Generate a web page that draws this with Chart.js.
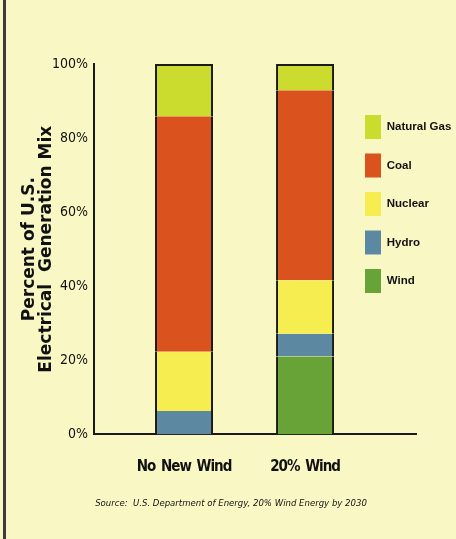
<!DOCTYPE html>
<html><head><meta charset="utf-8">
<script src="https://cdn.jsdelivr.net/npm/chart.js@4.4.1/dist/chart.umd.min.js"></script>
<style>
html,body{margin:0;padding:0;background:#f9f8c4;}
#wrap{position:relative;width:456px;height:539px;overflow:hidden;}
#edge{position:absolute;left:3px;top:0;width:3px;height:539px;background:#3b3b3b;}
#c{position:absolute;left:0;top:0;}
</style></head><body>
<div id="wrap"><div id="edge"></div><canvas id="c" width="456" height="539"></canvas></div>
<script>
// ---- data ----
const categories = ['No New Wind', '20% Wind'];
const wind       = [0,    21.0];
const hydro      = [6.3,  6.2];
const nuclear    = [16.0, 14.4];
const coal       = [63.6, 51.3];
const naturalGas = [14.1, 7.1];
const yTickValues = [0, 20, 40, 60, 80, 100];
const yTitle = ['Percent of U.S.', 'Electrical  Generation Mix'];
const sourceText = 'Source:  U.S. Department of Energy, 20% Wind Energy by 2030';

// ---- styling ----
const COND = "'DejaVu Sans Condensed', 'Liberation Sans', sans-serif";
const INK = '#111111';
const series = [
  { label: 'Wind',        values: wind,       color: '#67a337' },
  { label: 'Hydro',       values: hydro,      color: '#5c89a1' },
  { label: 'Nuclear',     values: nuclear,    color: '#f6ee50' },
  { label: 'Coal',        values: coal,       color: '#da531f' },
  { label: 'Natural Gas', values: naturalGas, color: '#cbdc2f' }
];

function outline(ctx) {
  if (ctx.type !== 'data') return 0;
  const i = ctx.dataIndex;
  let topIdx = -1;
  ctx.chart.data.datasets.forEach((d, k) => { if (d.data[i].y > 0) topIdx = k; });
  return { left: 2, right: 2, top: ctx.datasetIndex === topIdx ? 2 : 0, bottom: 0 };
}

// place the legend over the right part of the plot, like the original
const moveLegend = {
  id: 'moveLegend',
  afterLayout(chart) {
    const lg = chart.legend;
    const pad = lg.options.labels.padding;
    const h = lg.bottom - lg.top;
    lg.left = 365 - pad; lg.right = chart.width; lg.width = lg.right - lg.left;
    lg.top = 115 - pad; lg.bottom = lg.top + h;
  },
  beforeDraw(chart) { chart.ctx.letterSpacing = '0px'; chart.ctx.wordSpacing = '0px'; },
  afterDatasetsDraw(chart) { chart.ctx.letterSpacing = '-1px'; chart.ctx.wordSpacing = '2px'; }, // tight category labels
  afterDraw(chart) { chart.ctx.letterSpacing = '0px'; chart.ctx.wordSpacing = '0px'; }
};

new Chart(document.getElementById('c'), {
  type: 'bar',
  data: {
    datasets: series.map(s => ({
      label: s.label,
      data: s.values.map((v, i) => ({ x: i, y: v })),
      backgroundColor: s.color,
      borderColor: '#1a1a1a',
      borderWidth: outline,
      borderSkipped: false,
      barThickness: 58,
      inflateAmount: 0
    }))
  },
  plugins: [moveLegend],
  options: {
    responsive: false,
    animation: false,
    devicePixelRatio: 1,
    layout: { padding: { top: 64, right: 0, bottom: 0, left: 6 } },
    scales: {
      x: {
        type: 'linear',
        stacked: true,
        min: -0.744,
        max: 1.917,
        offset: false,
        afterBuildTicks: s => { s.ticks = categories.map((_, i) => ({ value: i })); },
        afterFit: s => { s.height = 46; },
        grid: { display: false, drawTicks: false },
        border: { display: true, color: '#1a1a1a', width: 2 },
        ticks: {
          z: 1,
          padding: 24,
          maxRotation: 0,
          autoSkip: false,
          color: INK,
          font: { family: COND, size: 15, weight: 'bold' },
          callback: v => categories[v]
        }
      },
      y: {
        stacked: true,
        min: 0,
        max: 100,
        afterBuildTicks: s => { s.ticks = yTickValues.map(v => ({ value: v })); },
        afterFit: s => { s.width = 88; },
        grid: { display: false, drawTicks: false },
        border: { display: true, color: '#1a1a1a', width: 2 },
        ticks: {
          padding: 6,
          color: INK,
          font: { family: COND, size: 14 },
          callback: v => v + '%'
        },
        title: {
          display: true,
          text: yTitle,
          color: INK,
          padding: { top: 15.5, bottom: 0 },
          font: { family: "'DejaVu Sans', sans-serif", size: 17, weight: 'bold', lineHeight: '17px' }
        }
      }
    },
    plugins: {
      tooltip: { enabled: false },
      legend: {
        position: 'right',
        align: 'start',
        maxWidth: 40,
        reverse: true,
        labels: {
          boxWidth: 16,
          boxHeight: 24,
          padding: 14.5,
          color: INK,
          font: { family: "'Liberation Sans', Arial, sans-serif", size: 11.5, weight: 'bold' },
          generateLabels: chart => Chart.defaults.plugins.legend.labels.generateLabels(chart)
            .map(l => Object.assign(l, { lineWidth: 0, strokeStyle: 'rgba(0,0,0,0)' }))
        }
      },
      title: {
        display: true,
        position: 'bottom',
        text: sourceText,
        color: INK,
        padding: { top: 17.5, bottom: 29.7 },
        font: { family: COND, size: 9.5, style: 'italic', weight: 'normal', lineHeight: 1.2 }
      }
    }
  }
});
</script>
</body></html>
